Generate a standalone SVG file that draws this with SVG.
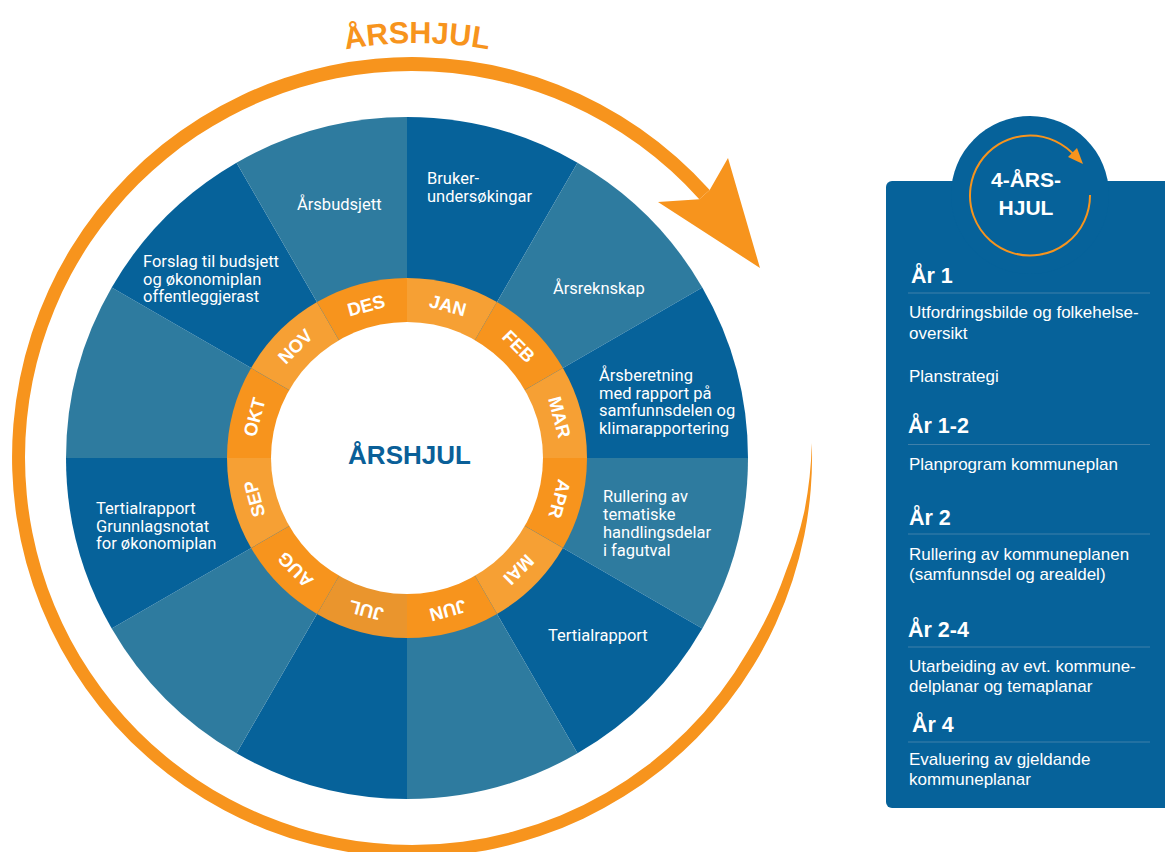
<svg xmlns="http://www.w3.org/2000/svg" width="1165" height="852" viewBox="0 0 1165 852">
<style>
.dk{fill:#06629a}
.lt{fill:#2e7b9f}
.o1{fill:#f7941d}
.o2{fill:#f6a034}
.o3{fill:#ea952d}
.lbl{font-family:Roboto,"Liberation Sans",sans-serif;font-size:16.5px;fill:#ffffff}
.mon{font-family:"Liberation Sans",Arial,sans-serif;font-weight:bold;font-size:18.5px;fill:#ffffff;text-anchor:middle}
.hd{font-family:"Liberation Sans",Arial,sans-serif;font-weight:bold;font-size:21.5px;fill:#ffffff}
.tx{font-family:"Liberation Sans",Arial,sans-serif;font-size:17px;fill:#ffffff}
.dv{stroke:#3f80aa;stroke-width:1.2}
.arrow{fill:#f7941d}
</style>
<defs>
<path id="titlearc" d="M 17 443 A 400 400 0 0 1 817 443"/>
</defs>
<rect width="1165" height="852" fill="#ffffff"/>

<g id="title">
<text font-family="'Liberation Sans',Arial,sans-serif" font-weight="bold" font-size="30.5" fill="#f7941d" text-anchor="middle"><textPath href="#titlearc" startOffset="50%">ÅRSHJUL</textPath></text>
</g>

<g id="connectors">
<path class="arrow" d="M 811.8 443 A 400 400 0 1 1 709.7 189.9 L 699.3 199.2 A 386 386 0 0 0 412 71 A 386.5 386.5 0 0 0 25 457 A 387.5 387.5 0 0 0 412 845 A 388 388 0 0 0 748 651 A 389.5 389.5 0 0 0 785.9 571.3 A 393 393 0 0 0 804.2 512.1 A 398 398 0 0 0 811.8 443 Z"/>
<path class="arrow" d="M 658 202 L 699.3 199.2 L 709.7 189.9 L 728 158 L 760 268 Z"/>
</g>

<g id="jan">
<path class="dk" d="M407 458 L407 117 A341 341 0 0 1 577.5 162.7 Z"/>
<path class="o2" d="M407 458 L407 278 A180 180 0 0 1 497 302.1 Z"/>
<text class="mon" x="407" y="306.5" transform="rotate(15 407 458)">JAN</text>
<text class="lbl" x="427" y="184">Bruker-</text>
<text class="lbl" x="427" y="202">undersøkingar</text>
</g>
<g id="feb">
<path class="lt" d="M407 458 L577.5 162.7 A341 341 0 0 1 702.3 287.5 Z"/>
<path class="o1" d="M407 458 L497 302.1 A180 180 0 0 1 562.9 368 Z"/>
<text class="mon" x="407" y="306.5" transform="rotate(45 407 458)">FEB</text>
<text class="lbl" x="553" y="294">Årsreknskap</text>
</g>
<g id="mar">
<path class="dk" d="M407 458 L702.3 287.5 A341 341 0 0 1 748 458 Z"/>
<path class="o2" d="M407 458 L562.9 368 A180 180 0 0 1 587 458 Z"/>
<text class="mon" x="407" y="306.5" transform="rotate(75 407 458)">MAR</text>
<text class="lbl" x="599" y="381">Årsberetning</text>
<text class="lbl" x="599" y="399">med rapport på</text>
<text class="lbl" x="599" y="416">samfunnsdelen og</text>
<text class="lbl" x="599" y="434">klimarapportering</text>
</g>
<g id="apr">
<path class="lt" d="M407 458 L748 458 A341 341 0 0 1 702.3 628.5 Z"/>
<path class="o1" d="M407 458 L587 458 A180 180 0 0 1 562.9 548 Z"/>
<text class="mon" x="407" y="306.5" transform="rotate(105 407 458)">APR</text>
<text class="lbl" x="603" y="502">Rullering av</text>
<text class="lbl" x="603" y="520">tematiske</text>
<text class="lbl" x="603" y="538">handlingsdelar</text>
<text class="lbl" x="603" y="556">i fagutval</text>
</g>
<g id="mai">
<path class="dk" d="M407 458 L702.3 628.5 A341 341 0 0 1 577.5 753.3 Z"/>
<path class="o2" d="M407 458 L562.9 548 A180 180 0 0 1 497 613.9 Z"/>
<text class="mon" x="407" y="306.5" transform="rotate(135 407 458)">MAI</text>
<text class="lbl" x="548" y="641">Tertialrapport</text>
</g>
<g id="jun">
<path class="lt" d="M407 458 L577.5 753.3 A341 341 0 0 1 407 799 Z"/>
<path class="o1" d="M407 458 L497 613.9 A180 180 0 0 1 407 638 Z"/>
<text class="mon" x="407" y="306.5" transform="rotate(165 407 458)">JUN</text>
</g>
<g id="jul">
<path class="dk" d="M407 458 L407 799 A341 341 0 0 1 236.5 753.3 Z"/>
<path class="o3" d="M407 458 L407 638 A180 180 0 0 1 317 613.9 Z"/>
<text class="mon" x="407" y="306.5" transform="rotate(195 407 458)">JUL</text>
</g>
<g id="aug">
<path class="lt" d="M407 458 L236.5 753.3 A341 341 0 0 1 111.7 628.5 Z"/>
<path class="o1" d="M407 458 L317 613.9 A180 180 0 0 1 251.1 548 Z"/>
<text class="mon" x="407" y="306.5" transform="rotate(225 407 458)">AUG</text>
</g>
<g id="sep">
<path class="dk" d="M407 458 L111.7 628.5 A341 341 0 0 1 66 458 Z"/>
<path class="o2" d="M407 458 L251.1 548 A180 180 0 0 1 227 458 Z"/>
<text class="mon" x="407" y="306.5" transform="rotate(255 407 458)">SEP</text>
<text class="lbl" x="96" y="514">Tertialrapport</text>
<text class="lbl" x="96" y="531.5">Grunnlagsnotat</text>
<text class="lbl" x="96" y="549">for økonomiplan</text>
</g>
<g id="okt">
<path class="lt" d="M407 458 L66 458 A341 341 0 0 1 111.7 287.5 Z"/>
<path class="o1" d="M407 458 L227 458 A180 180 0 0 1 251.1 368 Z"/>
<text class="mon" x="407" y="306.5" transform="rotate(285 407 458)">OKT</text>
</g>
<g id="nov">
<path class="dk" d="M407 458 L111.7 287.5 A341 341 0 0 1 236.5 162.7 Z"/>
<path class="o2" d="M407 458 L251.1 368 A180 180 0 0 1 317 302.1 Z"/>
<text class="mon" x="407" y="306.5" transform="rotate(315 407 458)">NOV</text>
<text class="lbl" x="143" y="267">Forslag til budsjett</text>
<text class="lbl" x="143" y="284.5">og økonomiplan</text>
<text class="lbl" x="143" y="302">offentleggjerast</text>
</g>
<g id="des">
<path class="lt" d="M407 458 L236.5 162.7 A341 341 0 0 1 407 117 Z"/>
<path class="o1" d="M407 458 L317 302.1 A180 180 0 0 1 407 278 Z"/>
<text class="mon" x="407" y="306.5" transform="rotate(345 407 458)">DES</text>
<text class="lbl" x="297" y="210">Årsbudsjett</text>
</g>

<g id="centre">
<circle cx="407" cy="458" r="136" fill="#ffffff"/>
<text x="409.5" y="464" font-family="'Liberation Sans',Arial,sans-serif" font-weight="bold" font-size="26" fill="#0a5f98" text-anchor="middle">ÅRSHJUL</text>
</g>

<g id="four-year-wheel">
<rect x="886" y="181" width="300" height="627" rx="6" fill="#06629a"/>
<circle cx="1030" cy="195" r="79" fill="#06629a"/>
<path d="M 1090 195 A 60 60 0 1 1 1076 157" fill="none" stroke="#f7941d" stroke-width="2"/>
<path class="arrow" d="M 1068 157 L 1077 148 L 1083 164 Z"/>
<text x="1026" y="187" font-family="'Liberation Sans',Arial,sans-serif" font-weight="bold" font-size="21" fill="#ffffff" text-anchor="middle">4-ÅRS-</text>
<text x="1026" y="215" font-family="'Liberation Sans',Arial,sans-serif" font-weight="bold" font-size="21" fill="#ffffff" text-anchor="middle">HJUL</text>

<text class="hd" x="911" y="283">År 1</text>
<line class="dv" x1="908" y1="293" x2="1150" y2="293"/>
<text class="tx" x="909" y="318">Utfordringsbilde og folkehelse-</text>
<text class="tx" x="909" y="339">oversikt</text>
<text class="tx" x="909" y="382">Planstrategi</text>

<text class="hd" x="908" y="433">År 1-2</text>
<line class="dv" x1="908" y1="444.5" x2="1150" y2="444.5"/>
<text class="tx" x="909" y="470">Planprogram kommuneplan</text>

<text class="hd" x="909" y="525">År 2</text>
<line class="dv" x1="908" y1="534" x2="1150" y2="534"/>
<text class="tx" x="909" y="560">Rullering av kommuneplanen</text>
<text class="tx" x="909" y="580">(samfunnsdel og arealdel)</text>

<text class="hd" x="908" y="637">År 2-4</text>
<line class="dv" x1="908" y1="647" x2="1150" y2="647"/>
<text class="tx" x="909" y="672">Utarbeiding av evt. kommune-</text>
<text class="tx" x="909" y="692">delplanar og temaplanar</text>

<text class="hd" x="912" y="732">År 4</text>
<line class="dv" x1="908" y1="742" x2="1150" y2="742"/>
<text class="tx" x="909" y="765">Evaluering av gjeldande</text>
<text class="tx" x="909" y="785">kommuneplanar</text>
</g>
</svg>
